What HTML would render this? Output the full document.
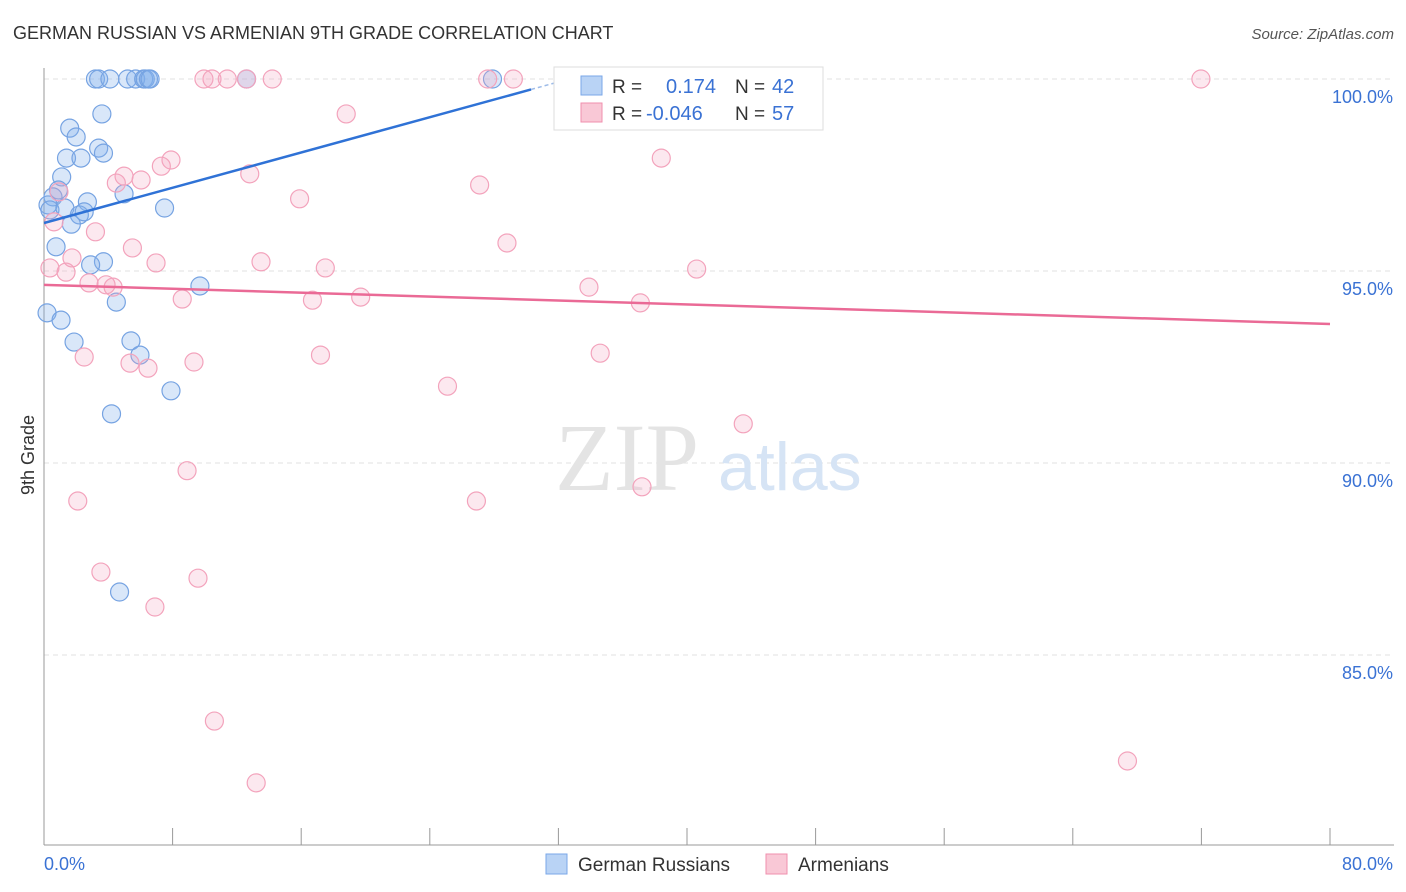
<!DOCTYPE html>
<html><head><meta charset="utf-8"><style>
body{margin:0;background:#fff;font-family:"Liberation Sans",sans-serif;}
#c{position:absolute;left:0;top:0;width:1406px;height:892px;}
</style></head><body>
<svg id="c" width="1406" height="892">
<text x="13" y="39" font-size="18" fill="#333">GERMAN RUSSIAN VS ARMENIAN 9TH GRADE CORRELATION CHART</text>
<text x="1394" y="39" font-size="15" fill="#555" font-style="italic" text-anchor="end">Source: ZipAtlas.com</text>
<g id="grid"></g>
<text x="555" y="490" font-size="96" fill="#e4e4e4" font-family="Liberation Serif,serif">ZIP</text>
<text x="718" y="490" font-size="68" fill="#d6e4f5">atlas</text>
<g id="pts"></g>
<g id="lines"></g>
<text x="34" y="455" font-size="18" fill="#333" transform="rotate(-90 34 455)" text-anchor="middle">9th Grade</text>
<g>
<rect x="554" y="67" width="269" height="63" fill="#fff" stroke="#ddd"/>
<rect x="581" y="76" width="21" height="19" fill="#b9d3f5" stroke="#7aa7e8"/>
<rect x="581" y="103" width="21" height="19" fill="#f9c8d6" stroke="#f08fae"/>
<text x="612" y="93" font-size="19" fill="#333">R = </text><text x="666" y="93" font-size="20" fill="#3a72d4">0.174</text>
<text x="735" y="93" font-size="19" fill="#333">N = </text><text x="772" y="93" font-size="20" fill="#3a72d4">42</text>
<text x="612" y="120" font-size="19" fill="#333">R = </text><text x="646" y="120" font-size="20" fill="#3a72d4">-0.046</text>
<text x="735" y="120" font-size="19" fill="#333">N = </text><text x="772" y="120" font-size="20" fill="#3a72d4">57</text>
</g>
<g>
<rect x="546" y="854" width="21" height="20" fill="#b9d3f5" stroke="#7aa7e8"/>
<text x="578" y="871" font-size="19" fill="#333">German Russians</text>
<rect x="766" y="854" width="21" height="20" fill="#f9c8d6" stroke="#f08fae"/>
<text x="798" y="871" font-size="19" fill="#333">Armenians</text>
</g>
</svg>
<script>
const yTicks=[100,95,90,85];
const xTickLabels=["0.0%","80.0%"];
const blueX=[3.2,3.4,4.1,5.2,5.7,6.2,6.3,6.5,6.6,12.6,27.9,3.6,1.6,2.0,3.4,3.7,1.4,2.3,1.1,0.9,4.98,2.7,0.56,0.25,0.37,1.3,2.2,2.5,1.7,7.5,0.75,3.7,2.9,9.7,4.5,0.19,1.06,1.87,5.41,5.97,7.9,4.2,4.7];
const blueY=[100,100,100,100,100,100,100,100,100,100,100,99.09,98.72,98.49,98.2,98.07,97.94,97.94,97.45,97.11,97.01,96.8,96.93,96.72,96.59,96.64,96.46,96.54,96.22,96.64,95.63,95.24,95.16,94.61,94.19,93.91,93.72,93.15,93.18,92.81,91.88,91.28,86.64];
const pinkX=[9.95,10.45,11.4,14.2,12.6,27.6,29.2,32.8,71.97,18.8,38.4,7.9,7.3,12.8,4.5,4.98,6.04,27.1,15.9,0.93,0.62,3.2,28.8,5.5,1.74,6.97,13.5,17.5,40.6,1.37,0.37,2.8,3.86,4.3,8.6,16.7,19.7,33.9,37.1,2.5,5.35,6.47,9.33,17.2,34.6,25.1,43.5,8.9,2.1,26.9,37.2,3.54,9.58,6.9,10.6,13.2,67.4];
const pinkY=[100,100,100,100,100,100,100,100,100,99.09,97.94,97.89,97.73,97.53,97.29,97.47,97.37,97.24,96.88,97.06,96.28,96.02,95.73,95.6,95.34,95.21,95.24,95.08,95.05,94.97,95.08,94.69,94.64,94.58,94.27,94.24,94.32,94.58,94.17,92.76,92.6,92.47,92.63,92.81,92.86,92.0,91.02,89.8,89.01,89.01,89.38,87.16,87.0,86.25,83.28,81.67,82.24];
const blueLine=[0,96.25,31.8,99.9];
const blueSolidEnd=30.3;
const pinkLine=[0,94.64,80,93.62];
const X=v=>44+v*16.075, Y=v=>79+(100-v)*38.4;
const ns="http://www.w3.org/2000/svg";
function mk(t,a,p){const e=document.createElementNS(ns,t);for(const k in a)e.setAttribute(k,a[k]);p.appendChild(e);return e;}
const g=document.getElementById('grid');
yTicks.forEach(t=>{
 const l=mk('line',{x1:44,x2:1394,y1:Y(t),y2:Y(t),stroke:'#e2e2e2','stroke-dasharray':'5,4'},g);
 
 
 const tx=mk('text',{x:1393,y:Y(t)+24,'font-size':18,fill:'#3a72d4','text-anchor':'end'},g);
 tx.textContent=t.toFixed(1)+'%';
 
 
});
mk('line',{x1:44,x2:44,y1:68,y2:845,stroke:'#999'},g);
mk('line',{x1:44,x2:1394,y1:845,y2:845,stroke:'#999'},g);
for(let i=0;i<=10;i++){const x=44+i*128.6;mk('line',{x1:x,x2:x,y1:828,y2:845,stroke:'#999'},g);}
xTickLabels.forEach((s,i)=>{const t=mk('text',{x:i?1393:44,y:870,'font-size':18,fill:'#3a72d4','text-anchor':i?'end':'start'},g);t.textContent=s;
 
 });
const p=document.getElementById('pts');
blueX.forEach((x,i)=>{const c=mk('circle',{cx:X(x),cy:Y(blueY[i]),r:9,fill:'rgba(130,175,235,0.3)',stroke:'#76a3e2','stroke-width':1.2},p);
 
 });
pinkX.forEach((x,i)=>{const c=mk('circle',{cx:X(x),cy:Y(pinkY[i]),r:9,fill:'rgba(245,165,190,0.25)',stroke:'#f3a3bc','stroke-width':1.2},p);
 
 });
const L=document.getElementById('lines');
const bAt=v=>blueLine[1]+(blueLine[3]-blueLine[1])*(v-blueLine[0])/(blueLine[2]-blueLine[0]);
const bl=mk('line',{x1:X(blueLine[0]),y1:Y(blueLine[1]),x2:X(blueSolidEnd),y2:Y(bAt(blueSolidEnd)),stroke:'#2f72d6','stroke-width':2.5},L);


const bd=mk('line',{x1:X(blueSolidEnd),y1:Y(bAt(blueSolidEnd)),x2:X(blueLine[2]),y2:Y(blueLine[3]),stroke:'#9dbbe8','stroke-width':1.5,'stroke-dasharray':'4,3'},L);


const pl=mk('line',{x1:X(pinkLine[0]),y1:Y(pinkLine[1]),x2:X(pinkLine[2]),y2:Y(pinkLine[3]),stroke:'#ea6a96','stroke-width':2.5},L);


</script>
</body></html>
